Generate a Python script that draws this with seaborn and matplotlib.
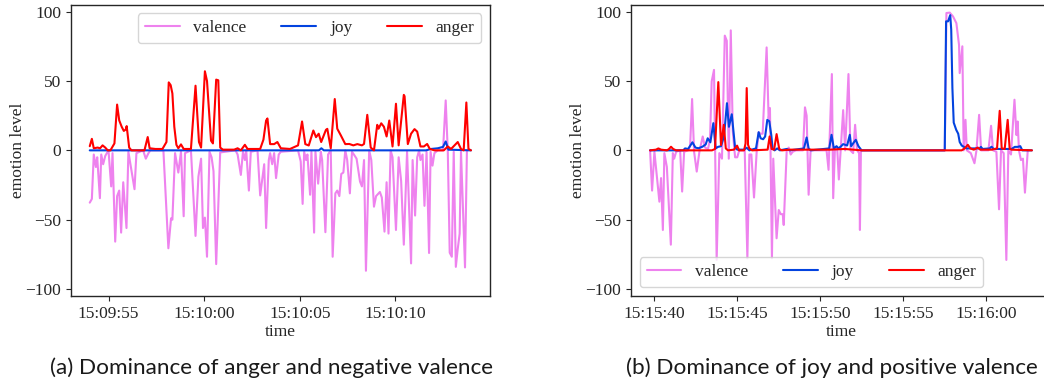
import numpy as np
import pandas as pd
import matplotlib
matplotlib.use("Agg")
import matplotlib.pyplot as plt
import matplotlib.dates as mdates
import seaborn as sns

# ---------------- data (seconds after base time, emotion level) ----------------
SERIES = ["valence", "joy", "anger"]
COLORS = ["violet", "#0343df", "red"]

# Panel (a): base 15:09:50
A_BASE = "2021-01-01 15:09:50"
a_valence_t = [4.02,4.13,4.23,4.34,4.41,4.55,4.62,4.72,4.83,5.00,
               5.14,5.21,5.35,5.45,5.56,5.66,5.77,5.94,6.04,6.36,
               6.46,6.81,6.95,7.09,7.19,7.87,8.13,8.27,8.34,8.48,
               8.65,8.79,8.93,9.00,9.31,9.55,9.70,9.84,9.94,10.04,
               10.15,10.28,10.39,10.49,10.63,10.84,11.64,11.75,11.92,12.03,
               12.13,12.20,12.34,12.44,12.79,12.93,13.14,13.24,13.38,13.45,
               13.56,13.66,13.76,13.90,14.01,14.91,15.05,15.15,15.23,15.33,
               15.40,15.54,15.61,15.75,15.82,15.96,16.10,16.17,16.34,16.48,
               16.62,16.72,16.86,16.96,17.07,17.17,17.28,17.38,17.48,17.62,
               17.73,17.83,17.97,18.15,18.25,18.36,18.46,18.63,18.74,18.88,
               18.99,19.12,19.19,19.29,19.43,19.54,19.64,19.75,19.85,20.03,
               20.17,20.30,20.44,20.61,20.82,20.90,21.03,21.14,21.24,21.31,
               21.42,21.52,21.63,21.76,21.84,21.94,22.04,22.22,22.49,22.63,
               22.74,22.84,22.95,23.05,23.16,23.26,23.36,23.43,23.64,23.74]
a_valence_v = [-37.7,-35,-3,-12,-5,-34.5,-3,-10,-4,0,
               -26,-2,-65.8,-33,-29,-59.3,-23,-56,-1,-28,
               -2,0,-6,-2,0,0,-70.6,-49,-50,-2,
               -16,-1,-47.5,-2,0,-61.7,-19,-6,-56,-48.5,
               -76.7,-1,-5,-15,-82,-1.5,0,-3,-17.7,-1,
               -7,0,-29,-1,0,-32.5,-10,-56,-7,-2,
               -10,-2,-20,-3,-1,0,-8,-38.6,-1,-7,
               -3,-32,-1,-59.3,-1,-24,-1,-7,-59,-3,
               0,-76.7,-31,-29,-33,-17,-16,0,-7,-31,
               -1,-3,-6,-22.5,-26,-7,-86.8,0,-7,-40.6,
               -33,-31,-30,-34,-58.6,-23,-60,0,-5,-57.4,
               -5,-22,-68,-1,-81.5,-7,-47,-5,0,-7,
               -3,-40,-1,-74,-1,-11,-2,0,0,36,
               -1,-73.8,-76.7,-1,-84,-71,-60,-1,-84.4,0]
a_joy_t = [4.02,16.0,16.13,16.26,21.6,21.87,22.22,22.49,22.63,22.77,23.95]
a_joy_v = [0,0,1.5,0,0,1,1.5,2.5,6.4,0.5,0]
a_anger_t = [4.02,4.13,4.23,4.43,4.56,4.69,4.83,4.96,5.10,5.31,
             5.45,5.56,5.69,5.80,5.90,5.95,6.08,6.20,6.88,7.05,
             7.15,7.45,7.82,8.03,8.15,8.25,8.34,8.44,8.55,8.65,
             8.79,8.93,9.07,9.31,9.55,9.73,9.84,10.04,10.15,10.36,
             10.46,10.63,10.74,10.84,10.98,11.57,11.75,11.92,12.13,12.27,
             12.93,13.10,13.24,13.31,13.45,13.66,13.83,14.01,14.49,14.91,
             15.12,15.29,15.47,15.71,15.85,15.99,16.12,16.37,16.44,16.62,
             16.83,16.96,17.14,17.38,17.59,17.80,18.01,18.25,18.36,18.53,
             18.71,18.88,19.05,19.12,19.26,19.40,19.54,19.68,19.85,20.03,
             20.17,20.44,20.48,20.65,20.82,21.00,21.14,21.31,21.49,21.66,
             21.80,22.04,22.53,22.74,22.91,23.26,23.43,23.57,23.71,23.82,
             23.95]
a_anger_v = [3,8.3,1.5,2,1.5,3.6,2,0,0,5,
             33,21.6,17,14,15,17.5,2,0,0,9.6,
             1.5,1,1,6,49,47,41,17,4,1.5,
             4.3,1,1,1,46.6,6,2,57,50,7,
             5,51,50.5,2,0.5,0.5,1.5,0,4,1,
             1,7.7,21.5,23,4.5,4.5,6,1.5,1,3.6,
             20.8,4.5,3.5,14.3,9.5,12,6,14.8,15.5,1.5,
             37,15.6,11,4.5,4.6,3.6,4.5,3.6,4.6,25.6,
             2,0,18.4,15.6,19.5,17,10,21.5,2.8,33.6,
             3.6,40,39,4.5,12,15.3,13.5,2.8,2.8,4.6,
             1,0,0,2.8,1,6,1,0,34.5,1,
             0]

# Panel (b): base 15:15:00
B_BASE = "2021-01-01 15:15:00"
b_valence_t = [39.74,39.86,40.00,40.30,40.40,40.51,40.60,40.75,40.99,41.11,
               41.19,41.31,41.55,41.67,41.79,42.03,42.15,42.27,42.39,42.55,
               42.71,42.91,43.05,43.23,43.35,43.45,43.59,43.75,43.91,44.07,
               44.24,44.36,44.48,44.60,44.72,44.86,44.99,45.11,45.44,45.60,
               45.72,45.84,46.00,46.16,46.28,46.40,46.52,46.76,46.88,46.96,
               47.08,47.16,47.36,47.49,47.61,47.73,47.79,47.97,48.09,48.21,
               48.33,48.53,48.95,49.07,49.17,49.29,49.41,50.37,50.49,50.69,
               50.77,50.87,51.01,51.11,51.22,51.37,51.49,51.69,51.81,51.97,
               52.09,52.21,52.33,52.38,52.44,57.49,57.59,57.79,57.99,58.19,
               58.35,58.39,58.55,58.63,58.74,58.82,59.06,59.28,59.40,59.56,
               59.68,60.12,60.28,60.40,60.60,60.76,60.88,61.04,61.20,61.32,
               61.48,61.69,61.81,61.88,61.96,62.08,62.20,62.32,62.49]
b_valence_v = [0,-29,-1,-37,-20,-57.4,-2,-12,-68,-2,
               -6,-1,0,-29.7,-1,0,3,37,-1,-15.3,
               -1,10,2,1,8,49.7,58,-79,-2,-6,
               82.7,79,-6,86.5,14,-5,-5,0,0,-77.8,
               -3,-3,-34,-1,13,12,12,74.2,23,30.5,
               -77.8,-6,-63.4,-43,-46,-46,-53.8,0,2,-3,
               -1,0,0,31,25,-32,0,0,-14,55,
               -34.5,0,2,-21,0,29,0,55,0,-2,
               18.4,0,-2,-57.4,0,0,99,99.3,96.5,91.7,
               76,55.7,75,0,22,0,-2,-9.3,0,25.6,
               0,0,17.7,0,-1,-42.5,0,-2,-79,0,
               -3,36.5,11,20.8,0,-7,-6,-30.5,0]
b_joy_t = [39.74,41.73,41.85,42.03,42.29,42.47,42.65,42.89,43.09,43.21,
           43.37,43.55,43.69,43.83,44.01,44.19,44.37,44.49,44.66,44.86,
           44.99,45.40,45.56,45.72,46.12,46.28,46.40,46.55,46.67,46.80,
           46.92,47.04,47.12,47.24,47.40,47.56,47.97,48.16,49.01,49.17,
           49.29,49.41,50.53,50.67,50.81,50.97,51.09,51.25,51.37,51.61,
           51.77,51.85,51.97,52.13,52.29,52.48,57.49,57.57,57.69,57.82,
           57.88,57.95,58.03,58.18,58.30,58.39,58.51,58.63,58.81,59.59,
           59.67,59.77,60.19,60.31,60.43,61.52,61.71,61.88,62.04,62.16,
           62.74]
b_joy_v = [0,0,1.4,1,5.8,2,1.5,2.6,4.3,8.7,
           5.8,19.6,1.4,2.5,3,10,34,17,26,2,
           0.5,0.5,1.9,0,1.4,13.1,8.7,8,10,22,
           21,11,1.4,0,1.4,0,1,0,1.4,9.3,
           1.4,0,1.4,11.2,1.4,3,1.4,3,4.5,3.5,
           11.2,3,5,7.6,3,0,0,93,93,97.5,
           87,45,20,14.8,12,6,3.5,2.6,1.4,1.4,
           2.5,1,1.4,2.6,1,1,2.5,2.5,3,0,
           0]
b_anger_t = [39.74,40.10,40.24,40.40,40.76,40.88,41.00,41.13,41.31,43.47,
             43.65,43.85,44.01,44.18,44.30,44.43,44.79,44.98,45.10,45.40,
             45.49,45.56,45.64,45.72,45.88,46.82,46.94,47.06,47.21,47.36,
             47.52,47.68,48.16,50.57,51.47,52.48,57.49,58.51,58.69,58.88,
             59.03,59.24,59.48,59.63,60.32,60.64,60.80,60.92,61.10,61.28,
             61.40,61.52,62.74]
b_anger_v = [0,0.5,1.4,0.5,0,1,2.6,1,0,0,
             1,49.2,3.8,18.4,1.4,0,0.5,3.4,0,0,
             5,44.9,4,1.4,0,0.5,10,1,0.5,11.7,
             1,0,0.5,0.5,1,0,0,0,1.4,4,
             1.4,0.5,2,0.5,0.5,1.4,28.5,1.4,1,22,
             1,0.5,0]

CAPTIONS = ["(a) Dominance of anger and negative valence",
            "(b) Dominance of joy and positive valence"]


def make_df(base, parts):
    frames = []
    for name, t, v in parts:
        frames.append(pd.DataFrame({
            "time": pd.Timestamp(base) + pd.to_timedelta(np.asarray(t), unit="s"),
            "emotion level": v,
            "series": name,
        }))
    return pd.concat(frames, ignore_index=True)


df_a = make_df(A_BASE, [("valence", a_valence_t, a_valence_v),
                        ("joy", a_joy_t, a_joy_v),
                        ("anger", a_anger_t, a_anger_v)])
df_b = make_df(B_BASE, [("valence", b_valence_t, b_valence_v),
                        ("joy", b_joy_t, b_joy_v),
                        ("anger", b_anger_t, b_anger_v)])

# ---------------- style ----------------
sns.set_style("ticks")
plt.rcParams["font.family"] = ["Liberation Serif", "DejaVu Serif"]
plt.rcParams["font.size"] = 12
plt.rcParams["axes.edgecolor"] = "0.15"

W, H = 1044, 386
fig = plt.figure(figsize=(W / 100, H / 100), dpi=100)
top_px, bot_px = 4.7, 296
ax1 = fig.add_axes([70.7 / W, 1 - bot_px / H, (490 - 70.7) / W, (bot_px - top_px) / H])
ax2 = fig.add_axes([631 / W, 1 - bot_px / H, (1051 - 631) / W, (bot_px - top_px) / H])

for ax, df, loc in [(ax1, df_a, "upper right"), (ax2, df_b, "lower left")]:
    sns.lineplot(data=df, x="time", y="emotion level", hue="series",
                 hue_order=SERIES, palette=COLORS, estimator=None,
                 linewidth=1.5, ax=ax)
    ax.set_ylim(-105, 105)
    ax.set_yticks([-100, -50, 0, 50, 100])
    ax.xaxis.set_major_locator(mdates.SecondLocator(bysecond=range(0, 60, 5)))
    ax.xaxis.set_major_formatter(mdates.DateFormatter("%H:%M:%S"))
    ax.set_xlabel("time", fontsize=12.5, labelpad=2)
    ax.set_ylabel("emotion level", fontsize=12.5, labelpad=-0.5)
    ax.tick_params(labelsize=12.5)
    for s in ax.spines.values():
        s.set_visible(True)
        s.set_linewidth(1.0)
    sns.move_legend(ax, loc, ncol=3, title=None, frameon=True, fontsize=12.5)

fig.text(272 / W, 1 - 368 / H, CAPTIONS[0], ha="center", va="center",
         fontsize=16.2, family="Lato", color="#1a1a1a")
fig.text(832 / W, 1 - 368 / H, CAPTIONS[1], ha="center", va="center",
         fontsize=16.2, family="Lato", color="#1a1a1a")

fig.savefig("out.png", dpi=100)
